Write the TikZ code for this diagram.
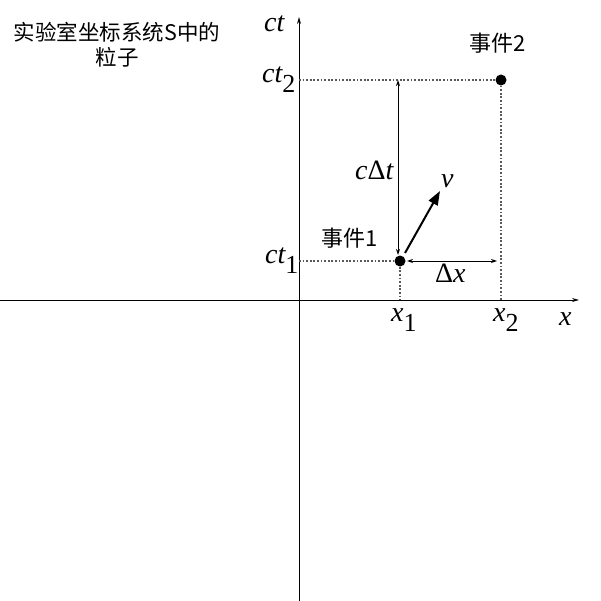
\documentclass[tikz,border=0pt]{standalone}
\usepackage{fontspec}
\setmainfont{Liberation Serif}
\newfontfamily\cjk{Noto Sans CJK SC}
\usetikzlibrary{arrows.meta}
\tikzset{
  axis/.style={line width=1pt, -{Stealth[length=7pt,width=4pt]}},
  guide/.style={gray!70!black, line width=1.4pt, dash pattern=on 1.8pt off 1.8pt},
  dim/.style={line width=0.9pt, {Stealth[length=6pt,width=4pt]}-{Stealth[length=6pt,width=4pt]}},
  vel/.style={line width=2pt, -{Triangle[length=14pt,width=10pt]}},
  ev/.style={circle, fill=black, inner sep=0pt, minimum size=11pt},
  cn/.style={font=\cjk\fontsize{22}{26}\selectfont, inner sep=0pt},
  ml/.style={font=\fontsize{28}{30}\selectfont, inner sep=0pt, anchor=base west},
}
\newcommand{\sbs}[1]{\raisebox{-10pt}{\upshape\fontsize{26}{26}\selectfont #1}}
\begin{document}
\begin{tikzpicture}[x=1pt,y=-1pt]
\useasboundingbox (0,0) rectangle (600,601);
% axes
\coordinate (xl) at (0,300);
\coordinate (xr) at (579,300);
\coordinate (yb) at (299,601);
\coordinate (yt) at (299,17);
\draw[axis] (xl) -- (xr);
\draw[axis] (yb) -- (yt);
% events
\node[ev] (e1) at (400,261) {};
\node[ev] (e2) at (501,80) {};
\coordinate (a2) at (299,80);
\coordinate (a1) at (299,261);
\coordinate (b1) at (400,300);
\coordinate (b2) at (501,300);
\draw[guide] (a2) -- (e2);
\draw[guide] (a1) -- (e1);
\draw[guide] (e1) -- (b1);
\draw[guide] (e2) -- (b2);
% dimension arrows
\coordinate (ct) at (398,80);
\coordinate (cb) at (398,255);
\draw[dim] (ct) -- (cb);
\coordinate (dl) at (407,261);
\coordinate (dr) at (497,261);
\draw[dim] (dl) -- (dr);
% velocity
\coordinate (v0) at (405,253);
\coordinate (v1) at (440,191);
\draw[vel] (v0) -- (v1);
% labels
\node[ml] (lct) at (264,32) {\itshape ct};
\node[ml] (lct2) at (262,83) {\itshape ct\sbs{2}};
\node[ml] (lct1) at (265,263) {\itshape ct\sbs{1}};
\node[ml] (lx1) at (391,321) {\itshape x\sbs{1}};
\node[ml] (lx2) at (493,321) {\itshape x\sbs{2}};
\node[ml] (lx) at (559,325) {\itshape x};
\node[ml] (lv) at (441,188) {\itshape v};
\node[ml] (ldt) at (355,180) {\itshape c\upshape Δ\itshape t};
\node[ml] (ldx) at (435,282) {\upshape Δ\itshape x};
\node[cn] (n1) at (350,238) {事件1};
\node[cn] (n2) at (498,43) {事件2};
\node[cn, align=center, font=\cjk\fontsize{21.5}{25}\selectfont] (title) at (117,45) {实验室坐标系统S中的\\粒子};
\end{tikzpicture}
\end{document}
